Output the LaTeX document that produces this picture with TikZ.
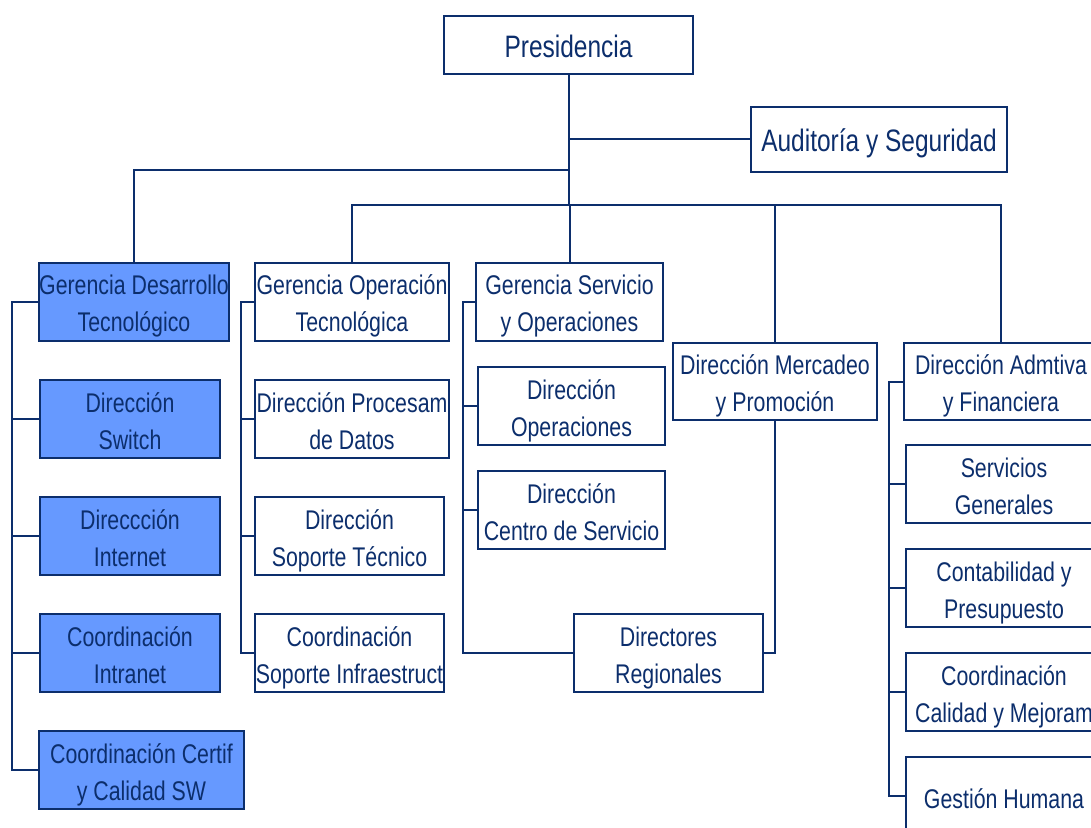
\documentclass[tikz,border=0pt]{standalone}
\usepackage{fontspec}
\setmainfont{Liberation Sans}[FakeStretch=0.79]
\usepackage{tikz}

\definecolor{azul}{RGB}{12,46,108}
\definecolor{relleno}{RGB}{102,153,255}

\tikzset{
	marco/.style={draw=azul,line width=1pt,rectangle,inner sep=0pt,align=center,
		text=azul,font=\fontsize{13.5pt}{18.5pt}\selectfont,minimum height=39pt,
		execute at end node={\rule[-3pt]{0pt}{3pt}}},
	caja/.style={marco,execute at begin node={\rule{0pt}{33pt}}},
	una/.style={marco,execute at begin node={\rule{0pt}{15.5pt}}},
	cajaazul/.style={caja,fill=relleno},
	grande/.style={font=\fontsize{15.5pt}{18.5pt}\selectfont},
	linea/.style={draw=azul,line width=1pt}
}

\begin{document}
\begin{tikzpicture}[x=0.5pt,y=-0.5pt]
		\useasboundingbox (0,0) rectangle (1091,828);
		\clip (0,0) rectangle (1091,828);
		
		\node[una,grande,minimum width=124.5pt,minimum height=29pt] (pres) at (568.5,45) {Presidencia};
		\node[una,grande,minimum width=128pt,minimum height=32.5pt] (aud) at (879,139.5) {Auditoría y Seguridad};
		
		% columna 1
		\node[cajaazul,minimum width=95pt] (gdt) at (134,302) {Gerencia Desarrollo\\Tecnológico};
		\node[cajaazul,minimum width=90pt] (dsw) at (130,419) {Dirección\\Switch};
		\node[cajaazul,minimum width=90pt] (din) at (130,536) {Direccción\\Internet};
		\node[cajaazul,minimum width=90pt] (cin) at (130,653) {Coordinación\\Intranet};
		\node[cajaazul,minimum width=102.5pt] (ccs) at (141.5,770) {Coordinación Certif\\y Calidad SW};
		
		% columna 2
		\node[caja,minimum width=97pt] (got) at (352,302) {Gerencia Operación\\Tecnológica};
		\node[caja,minimum width=97pt] (dpd) at (352,419) {Dirección Procesam\\de Datos};
		\node[caja,minimum width=94.5pt] (dst) at (349.5,536) {Dirección\\Soporte Técnico};
		\node[caja,minimum width=94.5pt] (csi) at (349.5,653) {Coordinación\\Soporte Infraestruct};
		
		% columna 3
		\node[caja,minimum width=93.5pt] (gso) at (569.5,302) {Gerencia Servicio\\y Operaciones};
		\node[caja,minimum width=93.5pt] (dop) at (571.5,406) {Dirección\\Operaciones};
		\node[caja,minimum width=93.5pt] (dcs) at (571.5,510) {Dirección\\Centro de Servicio};
		\node[caja,minimum width=94.5pt] (dre) at (668.5,653) {Directores\\Regionales};
		
		% columna 4
		\node[caja,minimum width=102pt,minimum height=38.5pt] (dmp) at (775,381.5) {Dirección Mercadeo\\y Promoción};
		
		% columna 5
		\node[caja,minimum width=97pt,minimum height=38.5pt] (daf) at (1001,381.5) {Dirección Admtiva\\y Financiera};
		\node[caja,minimum width=98pt] (sg) at (1004,484) {Servicios\\Generales};
		\node[caja,minimum width=98pt] (cp) at (1004,588) {Contabilidad y\\Presupuesto};
		\node[caja,minimum width=98pt] (ccm) at (1004,692) {Coordinación\\Calidad y Mejoram};
		\node[una,minimum width=98pt] (gh) at (1004,796) {Gestión Humana};
		
		% tronco
		\coordinate (t1) at (570,170);
		\coordinate (t2) at (570,205);
		\draw[linea] (pres.south) -- (pres.south |- t2);
		\draw[linea] (aud.west) -- (aud.west -| pres.south);
		\draw[linea] (pres.south |- t1) -| (gdt.north);
		\draw[linea] (got.north) |- (t2) -| (daf.north);
		\draw[linea] (gso.north) -- (gso.north |- t2);
		\draw[linea] (dmp.north) -- (dmp.north |- t2);
		
		% corchetes
		\coordinate (b1) at (12,0);
		\coordinate (b2) at (241,0);
		\coordinate (b3) at (463,0);
		\coordinate (b5) at (889,0);
		\draw[linea] (gdt.west) -- (gdt.west -| b1) |- (ccs.west);
		\foreach \n in {dsw,din,cin}
			\draw[linea] (\n.west) -- (\n.west -| b1);
		\draw[linea] (got.west) -- (got.west -| b2) |- (csi.west);
		\foreach \n in {dpd,dst}
			\draw[linea] (\n.west) -- (\n.west -| b2);
		\draw[linea] (gso.west) -- (gso.west -| b3) |- (dre.west);
		\foreach \n in {dop,dcs}
			\draw[linea] (\n.west) -- (\n.west -| b3);
		\draw[linea] (dmp.south) |- (dre.east);
		\draw[linea] (daf.west) -- (daf.west -| b5) |- (gh.west);
		\foreach \n in {sg,cp,ccm}
			\draw[linea] (\n.west) -- (\n.west -| b5);
	\end{tikzpicture}
\end{document}
